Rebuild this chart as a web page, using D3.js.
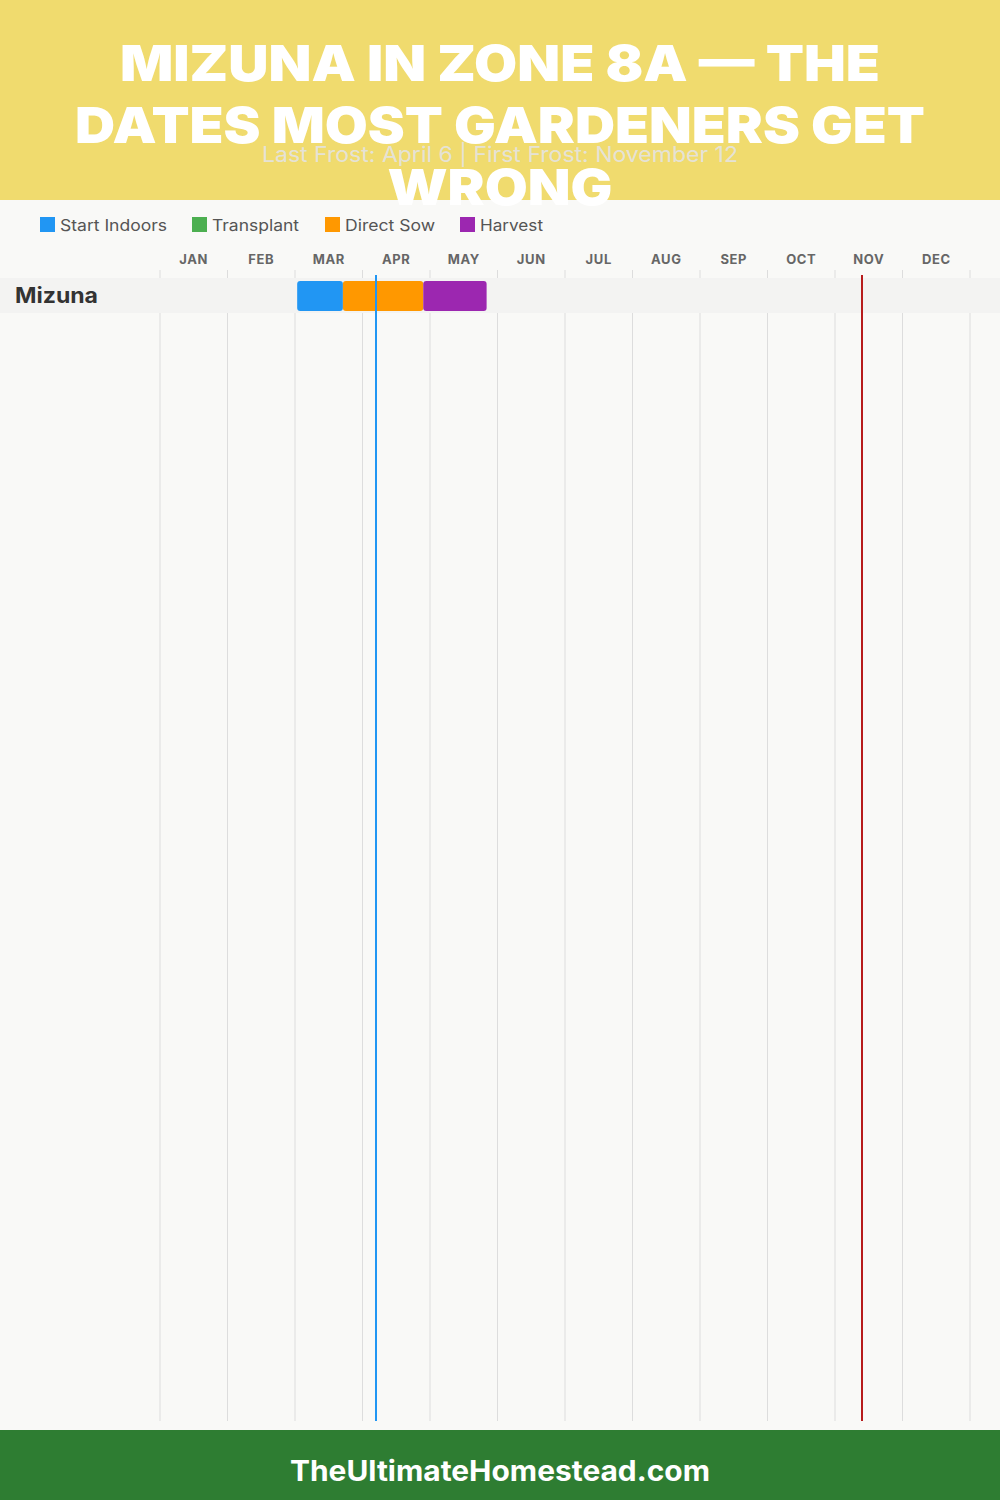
<!DOCTYPE html>
<html><head><meta charset="utf-8">
<script src="https://cdn.jsdelivr.net/npm/d3@7"></script>
<style>html,body{margin:0;padding:0;background:#f9f9f7;}svg{display:block;}</style>
</head><body>
<script>
const titleLines = ["MIZUNA IN ZONE 8A — THE", "DATES MOST GARDENERS GET", "WRONG"];
const subtitle = "Last Frost: April 6 | First Frost: November 12";
const months = ["JAN","FEB","MAR","APR","MAY","JUN","JUL","AUG","SEP","OCT","NOV","DEC"];
const daysInMonth = [31,28,31,30,31,30,31,31,30,31,30,31];
const legendNames = ["Start Indoors","Transplant","Direct Sow","Harvest"];
const legendColors = ["#2196f3","#4caf50","#ff9800","#9c27b0"];
const crops = ["Mizuna"];
// [crop, phase, startMonth(1-12), startDay, endMonth, endDay]
const phases = [
  ["Mizuna","Start Indoors",3,1,3,22],
  ["Mizuna","Direct Sow",3,22,4,27],
  ["Mizuna","Harvest",4,27,5,26]
];
const frostLines = [["Last Frost",4,6,"#2196f3"],["First Frost",11,12,"#b71c1c"]];
const footerText = "TheUltimateHomestead.com";

const W = 1000, H = 1500;
const F = "Inter, 'Noto Sans', sans-serif";
const svg = d3.select("body").append("svg").attr("width",W).attr("height",H);
svg.append("rect").attr("width",W).attr("height",H).attr("fill","#f9f9f7");

const x = d3.scaleLinear().domain([0,12]).range([160,970]);
const mpos = (m,d) => (m-1) + d/daysInMonth[m-1];
const y = d3.scaleBand().domain(crops).range([278,313]);

// header
svg.append("rect").attr("width",W).attr("height",200).attr("fill","#f0db6e");

// legend
const lx = [40,192,325,460], lw = [107,87,90,63];
const lg = svg.append("g");
legendNames.forEach((n,i)=>{
  lg.append("rect").attr("x",lx[i]).attr("y",217).attr("width",15).attr("height",15).attr("fill",legendColors[i]);
  lg.append("text").attr("x",lx[i]+20).attr("y",231).attr("font-family",F).attr("font-size",16)
    .attr("fill","#555").attr("textLength",lw[i]).attr("lengthAdjust","spacingAndGlyphs").text(n);
});

// month labels
svg.append("g").selectAll("text").data(months).join("text")
  .attr("x",(d,i)=>x(i+0.5)).attr("y",264).attr("text-anchor","middle")
  .attr("font-family",F).attr("font-weight",700).attr("font-size",13).attr("fill","#666")
  .attr("letter-spacing",0.6).text(d=>d);

// gridlines
svg.append("g").selectAll("line").data(d3.range(13)).join("line")
  .attr("x1",d=>x(d)).attr("x2",d=>x(d)).attr("y1",270).attr("y2",1421)
  .attr("stroke","#dddddd").attr("stroke-width",1);

// row bands
svg.append("g").selectAll("rect").data(crops).join("rect")
  .attr("x",0).attr("width",W).attr("y",d=>y(d)).attr("height",y.bandwidth()).attr("fill","#f3f3f2");
svg.append("g").selectAll("text").data(crops).join("text")
  .attr("x",15).attr("y",d=>y(d)+y.bandwidth()/2+7).attr("font-family",F).attr("font-weight",700)
  .attr("font-size",21).attr("fill","#333").attr("textLength",83).attr("lengthAdjust","spacingAndGlyphs").text(d=>d);

// bars
const color = d3.scaleOrdinal().domain(legendNames).range(legendColors);
svg.append("g").selectAll("rect").data(phases).join("rect")
  .attr("x",d=>x(mpos(d[2],d[3])))
  .attr("width",d=>x(mpos(d[4],d[5]))-x(mpos(d[2],d[3])))
  .attr("y",d=>y(d[0])+3).attr("height",y.bandwidth()-5)
  .attr("rx",3).attr("fill",d=>color(d[1]));

// frost lines
svg.append("g").selectAll("line").data(frostLines).join("line")
  .attr("x1",d=>x(mpos(d[1],d[2]))).attr("x2",d=>x(mpos(d[1],d[2])))
  .attr("y1",275).attr("y2",1421).attr("stroke",d=>d[3]).attr("stroke-width",2);

// title
const tw = [760,850,225];
svg.append("g").selectAll("text").data(titleLines).join("text")
  .attr("x",W/2).attr("y",(d,i)=>81+i*62).attr("text-anchor","middle")
  .attr("font-family",F).attr("font-weight",900).attr("font-size",50).attr("fill","#ffffff")
  .attr("textLength",(d,i)=>tw[i]).attr("lengthAdjust","spacingAndGlyphs").text(d=>d);
svg.append("text").attr("x",W/2).attr("y",162).attr("text-anchor","middle")
  .attr("font-family",F).attr("font-size",21).attr("fill","#e4e4e4").attr("fill-opacity",0.9)
  .attr("textLength",476).attr("lengthAdjust","spacingAndGlyphs").text(subtitle);

// footer
svg.append("rect").attr("x",0).attr("y",1430).attr("width",W).attr("height",70).attr("fill","#2e7d32");
svg.append("text").attr("x",W/2).attr("y",1481).attr("text-anchor","middle")
  .attr("font-family",F).attr("font-weight",700).attr("font-size",28).attr("fill","#fff")
  .attr("textLength",420).attr("lengthAdjust","spacingAndGlyphs").text(footerText);
</script>
</body></html>
